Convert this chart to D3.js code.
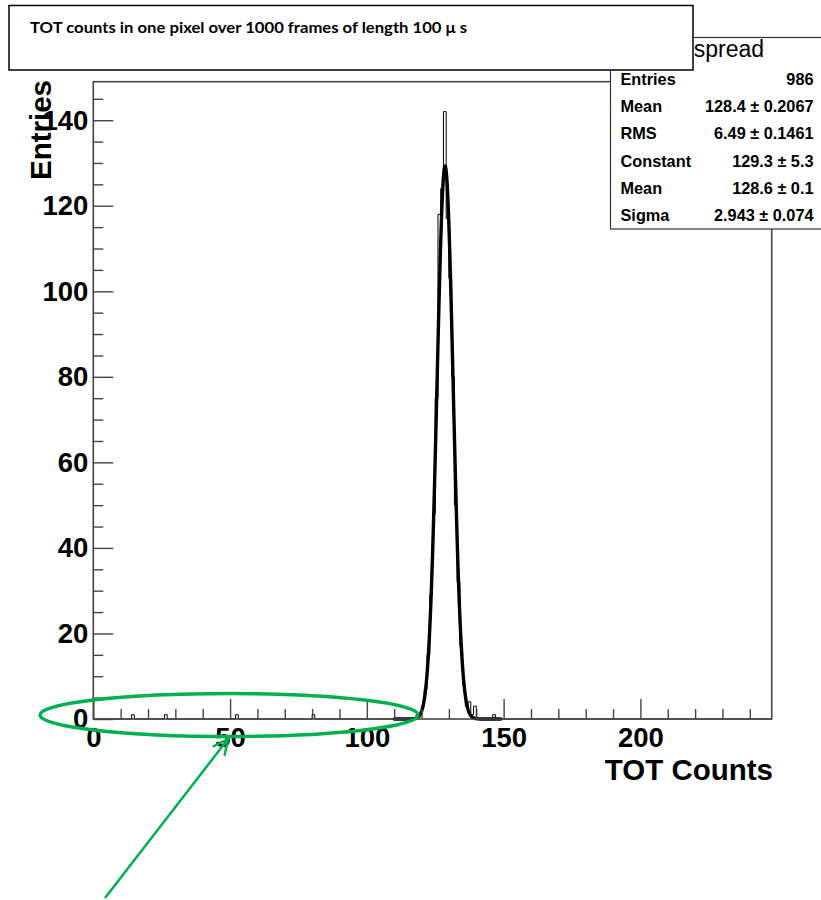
<!DOCTYPE html>
<html><head><meta charset="utf-8">
<script src="https://cdn.jsdelivr.net/npm/d3@7"></script>
<style>html,body{margin:0;padding:0;background:#fff;} svg{display:block;}</style>
</head><body>
<svg id="chart" width="821" height="900"></svg>
<script>
// ---- data ----
const binStarts = [14,26,52,80,118,119,120,121,122,123,124,125,126,127,128,129,130,131,132,133,134,135,136,137,138,139,146];
const binCounts = [1,1,1,1,1,1,3,7,15,29,48,75,118,124,142,117,103,80,50,32,17,8,3,4,1,3,1];
const binWidth = 1;
const xRange = [0, 248];
const yRange = [0, 149];
const xMajorTicks = [0, 50, 100, 150, 200];
const xMinorTicks = [10,20,30,40,60,70,80,90,110,120,130,140,160,170,180,190,210,220,230,240];
const yMajorTicks = [0, 20, 40, 60, 80, 100, 120, 140];
const yMinorTicks = [5,10,15,25,30,35,45,50,55,65,70,75,85,90,95,105,110,115,125,130,135,145];
const fitConstant = 129.3, fitMean = 128.6, fitSigma = 2.943;
const fitRange = [110, 149];
const statsTitle = "spread";
const statsLabels = ["Entries", "Mean", "RMS", "Constant", "Mean", "Sigma"];
const statsValues = ["986", "128.4 \u00b1 0.2067", "6.49 \u00b1 0.1461", "129.3 \u00b1 5.3", "128.6 \u00b1 0.1", "2.943 \u00b1 0.074"];
const titleText = "TOT counts in one pixel over 1000 frames of length 100 \u03bc s";
const xTitle = "TOT Counts";
const yTitle = "Entries";

// ---- layout ----
const svg = d3.select("#chart");
const L = 93.3, R = 771.7, T = 81.7, B = 719;
const x = d3.scaleLinear().domain(xRange).range([L, R]);
const y = d3.scaleLinear().domain(yRange).range([B, T]);
const axisColor = "#454545";
const rootFont = "'Liberation Sans', Arial, Helvetica, sans-serif";

// histogram (full bin array, step outline)
const nBins = Math.round((xRange[1] - xRange[0]) / binWidth);
const counts = new Array(nBins).fill(0);
binStarts.forEach((b, i) => { counts[Math.round((b - xRange[0]) / binWidth)] = binCounts[i]; });
const stepPts = [];
counts.forEach((c, i) => {
  const x0 = xRange[0] + i * binWidth;
  stepPts.push([x0, c], [x0 + binWidth, c]);
});
svg.append("path")
  .attr("d", d3.line().x(d => x(d[0])).y(d => y(d[1]))(stepPts))
  .attr("fill", "none").attr("stroke", "#000").attr("stroke-width", 1);

// fit curve
const fitPts = d3.range(fitRange[0], fitRange[1] + 0.0001, 0.1).map(v =>
  [v, fitConstant * Math.exp(-0.5 * Math.pow((v - fitMean) / fitSigma, 2))]);
svg.append("path")
  .attr("d", d3.line().x(d => x(d[0])).y(d => y(d[1])).curve(d3.curveLinear)(fitPts))
  .attr("fill", "none").attr("stroke", "#000").attr("stroke-width", 3.4)
  .attr("stroke-linejoin", "round").attr("stroke-linecap", "round");

// frame
svg.append("rect").attr("x", L).attr("y", T).attr("width", R - L).attr("height", B - T)
  .attr("fill", "none").attr("stroke", axisColor).attr("stroke-width", 1.6);

// axes
function styleAxis(g) {
  g.select(".domain").remove();
  g.selectAll(".tick line").attr("stroke", axisColor).attr("stroke-width", 1.4);
}
const gxMinor = svg.append("g").attr("transform", `translate(0,${B})`)
  .call(d3.axisBottom(x).tickValues(xMinorTicks).tickSize(-10).tickFormat(""));
styleAxis(gxMinor);
const gx = svg.append("g").attr("transform", `translate(0,${B})`)
  .call(d3.axisBottom(x).tickValues(xMajorTicks).tickSize(-20).tickPadding(8).tickFormat(d3.format("d")));
styleAxis(gx);
gx.selectAll("text").attr("font-family", rootFont).attr("font-weight", "bold")
  .attr("font-size", 27.5).attr("fill", "#000");

const gyMinor = svg.append("g").attr("transform", `translate(${L},0)`)
  .call(d3.axisLeft(y).tickValues(yMinorTicks).tickSize(-10).tickFormat(""));
styleAxis(gyMinor);
const gy = svg.append("g").attr("transform", `translate(${L},0)`)
  .call(d3.axisLeft(y).tickValues(yMajorTicks).tickSize(-20).tickPadding(5).tickFormat(d3.format("d")));
styleAxis(gy);
gy.selectAll("text").attr("font-family", rootFont).attr("font-weight", "bold")
  .attr("font-size", 27.5).attr("fill", "#000");

// axis titles
svg.append("text").attr("x", 773).attr("y", 780).attr("text-anchor", "end")
  .attr("font-family", rootFont).attr("font-weight", "bold").attr("font-size", 29.5)
  .text(xTitle);
svg.append("text").attr("transform", "translate(51,80) rotate(-90)").attr("text-anchor", "end")
  .attr("font-family", rootFont).attr("font-weight", "bold").attr("font-size", 29.5)
  .text(yTitle);

// stats box
const sb = svg.append("g");
sb.append("rect").attr("x", 610.5).attr("y", 37.5).attr("width", 240).attr("height", 191.5)
  .attr("fill", "#fff").attr("stroke", "#333").attr("stroke-width", 1.2);
sb.append("text").attr("x", 729).attr("y", 57).attr("text-anchor", "middle")
  .attr("font-family", rootFont).attr("font-size", 23).text(statsTitle);
statsLabels.forEach((lab, i) => {
  sb.append("text").attr("x", 620.5).attr("y", 85 + i * 27.2)
    .attr("font-family", rootFont).attr("font-weight", "bold").attr("font-size", 16.3).text(lab);
  sb.append("text").attr("x", 813.5).attr("y", 85 + i * 27.2).attr("text-anchor", "end")
    .attr("font-family", rootFont).attr("font-weight", "bold").attr("font-size", 16.3).text(statsValues[i]);
});

// title box
svg.append("rect").attr("x", 9).attr("y", 5.5).attr("width", 684).attr("height", 64.5)
  .attr("fill", "#fff").attr("stroke", "#000").attr("stroke-width", 1.5);
svg.append("text").attr("x", 30).attr("y", 32.5)
  .attr("font-family", "Lato, 'Open Sans', sans-serif").attr("font-weight", "bold")
  .attr("font-size", 15).attr("textLength", 437).attr("lengthAdjust", "spacingAndGlyphs")
  .text(titleText);

// green annotation
const green = "#00B050";
svg.append("ellipse").attr("cx", 229).attr("cy", 715).attr("rx", 189).attr("ry", 21.5)
  .attr("fill", "none").attr("stroke", green).attr("stroke-width", 3.5);
const ax0 = 105, ay0 = 898, ax1 = 228, ay1 = 739;
svg.append("line").attr("x1", ax0).attr("y1", ay0).attr("x2", ax1).attr("y2", ay1)
  .attr("stroke", green).attr("stroke-width", 2.5);
const ang = Math.atan2(ay1 - ay0, ax1 - ax0), hl = 16, spread = 0.45;
[ang + Math.PI - spread, ang + Math.PI + spread].forEach(a => {
  svg.append("line").attr("x1", ax1).attr("y1", ay1)
    .attr("x2", ax1 + hl * Math.cos(a)).attr("y2", ay1 + hl * Math.sin(a))
    .attr("stroke", green).attr("stroke-width", 2.5).attr("stroke-linecap", "round");
});
</script>
</body></html>
